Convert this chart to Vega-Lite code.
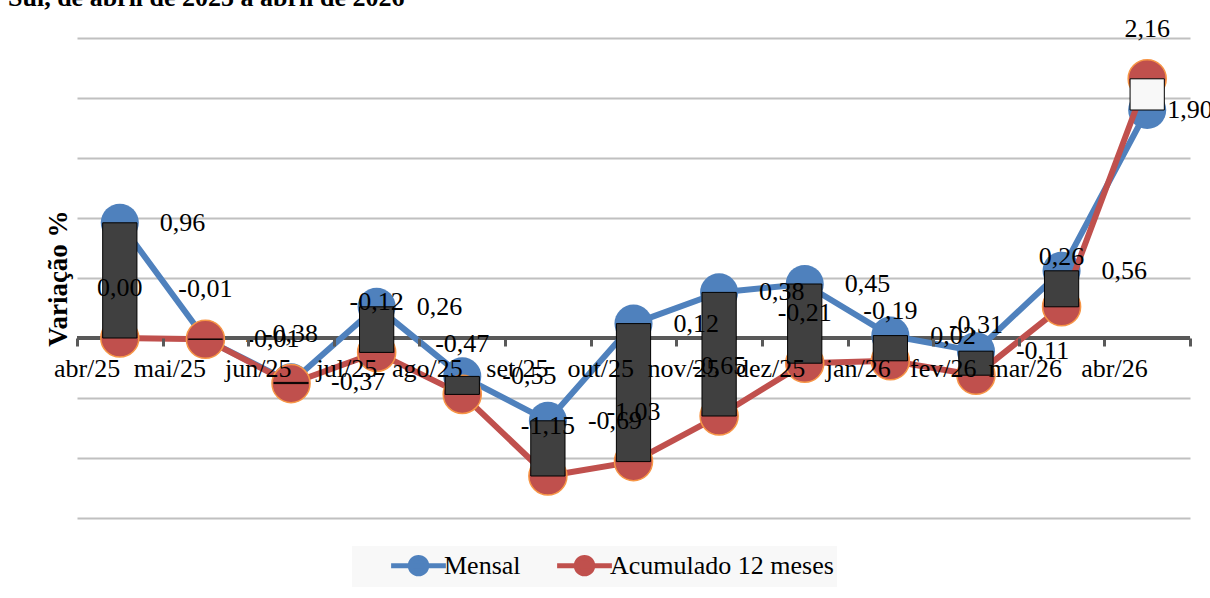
{
  "$schema": "https://vega.github.io/schema/vega-lite/v6.json",
  "width": 1113,
  "height": 480,
  "autosize": {"type": "none"},
  "padding": {"left": 77, "top": 38, "right": 20, "bottom": 80},
  "background": "white",
  "config": {"view": {"stroke": null}, "font": "Liberation Serif, Times New Roman, serif"},
  "title": {
    "text": "Sul, de abril de 2025 a abril de 2026",
    "anchor": "start",
    "frame": "group",
    "font": "Liberation Serif, Times New Roman, serif",
    "fontSize": 26,
    "fontWeight": "bold",
    "color": "black",
    "dx": -69,
    "dy": 27,
    "offset": 11,
    "baseline": "alphabetic"
  },
  "data": {
    "values": [
      {"mes": "abr/25", "mensal": 0.96, "acum": 0.0, "rot_m": "0,96", "rot_a": "0,00"},
      {"mes": "mai/25", "mensal": -0.01, "acum": -0.01, "rot_m": "-0,01", "rot_a": "-0,01"},
      {"mes": "jun/25", "mensal": -0.37, "acum": -0.38, "rot_m": "-0,37", "rot_a": "-0,38"},
      {"mes": "jul/25", "mensal": 0.26, "acum": -0.12, "rot_m": "0,26", "rot_a": "-0,12"},
      {"mes": "ago/25", "mensal": -0.32, "acum": -0.47, "rot_m": "-0,55", "rot_a": "-0,47"},
      {"mes": "set/25", "mensal": -0.69, "acum": -1.15, "rot_m": "-0,69", "rot_a": "-1,15"},
      {"mes": "out/25", "mensal": 0.12, "acum": -1.03, "rot_m": "0,12", "rot_a": "-1,03"},
      {"mes": "nov/25", "mensal": 0.38, "acum": -0.65, "rot_m": "0,38", "rot_a": "-0,65"},
      {"mes": "dez/25", "mensal": 0.45, "acum": -0.21, "rot_m": "0,45", "rot_a": "-0,21"},
      {"mes": "jan/26", "mensal": 0.02, "acum": -0.19, "rot_m": "0,02", "rot_a": "-0,19"},
      {"mes": "fev/26", "mensal": -0.11, "acum": -0.31, "rot_m": "-0,11", "rot_a": "-0,31"},
      {"mes": "mar/26", "mensal": 0.56, "acum": 0.26, "rot_m": "0,56", "rot_a": "0,26"},
      {"mes": "abr/26", "mensal": 1.9, "acum": 2.16, "rot_m": "1,90", "rot_a": "2,16"}
    ]
  },
  "layer": [
    {
      "mark": {"type": "rule", "color": "#595959", "strokeWidth": 3},
      "encoding": {
        "y": {
          "datum": 0,
          "type": "quantitative",
          "scale": {"domain": [-1.5, 2.5], "nice": false, "zero": false},
          "axis": {
            "values": [-1.5, -1, -0.5, 0, 0.5, 1, 1.5, 2, 2.5],
            "grid": true,
            "gridColor": "#c0c0c0",
            "gridWidth": 2,
            "labels": false,
            "ticks": false,
            "domain": false,
            "title": "Variação %",
            "titleFont": "Liberation Serif, Times New Roman, serif",
            "titleFontSize": 27,
            "titleFontWeight": "bold",
            "titleColor": "black",
            "titlePadding": 5
          }
        }
      }
    },
    {
      "mark": {"type": "line", "strokeWidth": 6},
      "encoding": {
        "x": {"field": "mes", "type": "nominal", "sort": null},
        "y": {"field": "mensal", "type": "quantitative"},
        "color": {
          "datum": "Mensal",
          "type": "nominal",
          "scale": {"domain": ["Mensal", "Acumulado 12 meses"], "range": ["#4F81BD", "#C0504D"]},
          "legend": {
            "orient": "none",
            "legendX": 275,
            "legendY": 508,
            "direction": "horizontal",
            "title": null,
            "fillColor": "#f8f8f8",
            "padding": 3,
            "symbolType": "M-2,0L2,0M-0.6,0A0.6,0.6,0,1,1,0.6,0A0.6,0.6,0,1,1,-0.6,0Z",
            "symbolSize": 750,
            "symbolOffset": 47,
            "symbolStrokeWidth": 5,
            "symbolOpacity": 1,
            "labelFontSize": 26,
            "labelFont": "Liberation Serif, Times New Roman, serif",
            "labelColor": "black",
            "labelOffset": 9,
            "labelLimit": 400,
            "columnPadding": -3,
            "encode": {
              "symbols": {
                "update": {
                  "fill": {"scale": "color", "field": "value"},
                  "stroke": {"scale": "color", "field": "value"},
                  "strokeWidth": {"value": 5},
                  "opacity": {"value": 1}
                }
              }
            }
          }
        }
      }
    },
    {
      "mark": {"type": "point", "filled": true, "size": 1450, "opacity": 1},
      "encoding": {
        "x": {"field": "mes", "type": "nominal", "sort": null},
        "y": {"field": "mensal", "type": "quantitative"},
        "color": {"datum": "Mensal", "type": "nominal"}
      }
    },
    {
      "mark": {"type": "line", "strokeWidth": 6},
      "encoding": {
        "x": {"field": "mes", "type": "nominal", "sort": null},
        "y": {"field": "acum", "type": "quantitative"},
        "color": {"datum": "Acumulado 12 meses", "type": "nominal"}
      }
    },
    {
      "mark": {"type": "point", "filled": true, "size": 1450, "opacity": 1, "stroke": "#F79646", "strokeWidth": 1.5},
      "encoding": {
        "x": {"field": "mes", "type": "nominal", "sort": null},
        "y": {"field": "acum", "type": "quantitative"},
        "color": {"datum": "Acumulado 12 meses", "type": "nominal"}
      }
    },
    {
      "mark": {"type": "bar", "width": {"band": 0.4}, "stroke": "black", "strokeWidth": 1},
      "encoding": {
        "x": {
          "field": "mes",
          "type": "nominal",
          "sort": null,
          "scale": {"paddingInner": 0, "paddingOuter": 0},
          "axis": {
            "orient": "bottom",
            "offset": -180,
            "domain": false,
            "ticks": true,
            "tickBand": "extent",
            "tickColor": "#595959",
            "tickWidth": 3,
            "tickSize": 8,
            "labelFontSize": 26,
            "labelFont": "Liberation Serif, Times New Roman, serif",
            "labelColor": "black",
            "labelAngle": 0,
            "labelPadding": 22,
            "title": null,
            "grid": false,
            "zindex": 1
          }
        },
        "y": {"field": "mensal", "type": "quantitative"},
        "y2": {"field": "acum"},
        "fill": {
          "condition": {"test": "datum.acum > datum.mensal", "value": "#f8f8f8"},
          "value": "#404040"
        }
      }
    },
    {
      "transform": [{"filter": "datum.mes != 'abr/26'"}],
      "mark": {"type": "text", "align": "left", "baseline": "middle", "dx": 40, "fontSize": 26, "font": "Liberation Serif, Times New Roman, serif", "color": "black"},
      "encoding": {
        "x": {"field": "mes", "type": "nominal", "sort": null},
        "y": {"field": "mensal", "type": "quantitative"},
        "text": {"field": "rot_m"}
      }
    },
    {
      "transform": [{"filter": "datum.mes == 'abr/26'"}],
      "mark": {"type": "text", "align": "left", "baseline": "middle", "dx": 20, "fontSize": 26, "font": "Liberation Serif, Times New Roman, serif", "color": "black"},
      "encoding": {
        "x": {"field": "mes", "type": "nominal", "sort": null},
        "y": {"field": "mensal", "type": "quantitative"},
        "text": {"field": "rot_m"}
      }
    },
    {
      "mark": {"type": "text", "align": "center", "baseline": "middle", "dy": -50, "fontSize": 26, "font": "Liberation Serif, Times New Roman, serif", "color": "black"},
      "encoding": {
        "x": {"field": "mes", "type": "nominal", "sort": null},
        "y": {"field": "acum", "type": "quantitative"},
        "text": {"field": "rot_a"}
      }
    }
  ]
}
